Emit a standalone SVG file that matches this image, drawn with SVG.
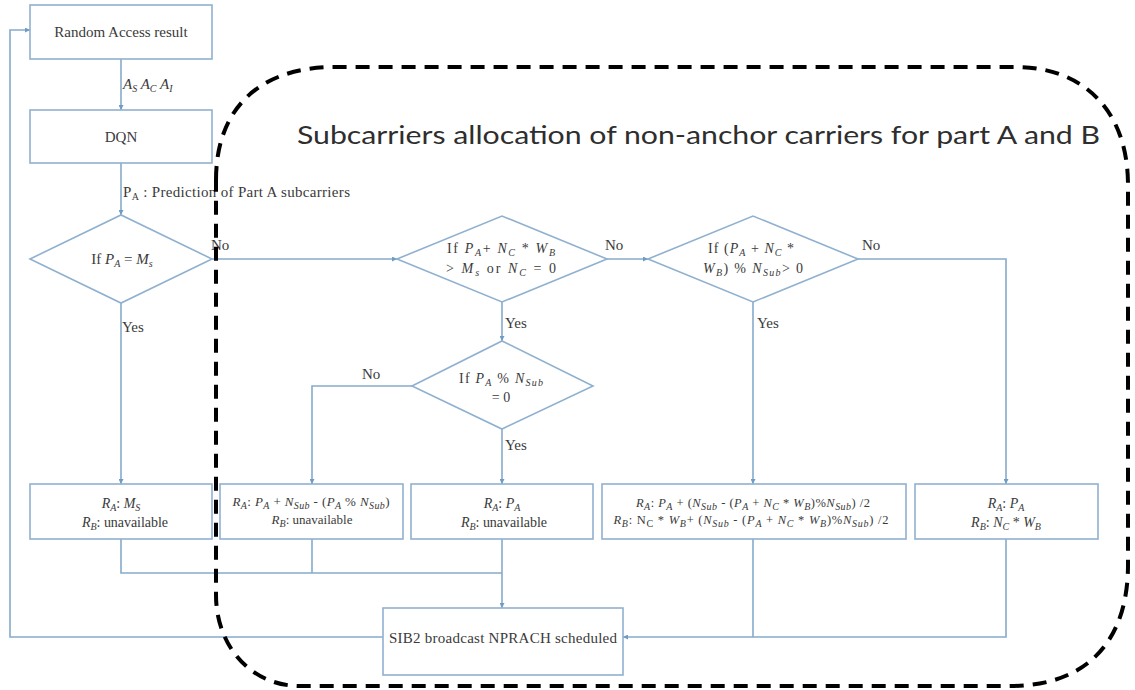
<svg xmlns="http://www.w3.org/2000/svg" width="1135" height="690" viewBox="0 0 1135 690">
  <defs>
    <marker id="arrow" viewBox="0 0 6 6" refX="6" refY="3" markerWidth="5" markerHeight="5" orient="auto" markerUnits="userSpaceOnUse">
      <path d="M0,0 L6,3 L0,6 z" fill="#6f9cc4"/>
    </marker>
    <style>
      .box { fill: #ffffff; stroke: #8fb1cf; stroke-width: 1.6; }
      .dia { fill: #ffffff; stroke: #8fb1cf; stroke-width: 1.6; }
      .line { fill: none; stroke: #86abcb; stroke-width: 1.6; }
      .arr { marker-end: url(#arrow); }
      text { font-family: "Liberation Serif", "Times New Roman", serif; font-size: 15px; fill: #3a3a3a; }
      .c { text-anchor: middle; }
      .i { font-style: italic; }
      .s { font-size: 10px; }
      .b { font-size: 14px; }
      .sm { font-size: 13px; }
      .xs { font-size: 12.5px; }
      .title { font-family: Lato, "Open Sans", sans-serif; font-size: 25.5px; fill: #2e2e2e; }
      .border { fill: none; stroke: #000000; stroke-width: 4; stroke-dasharray: 14 9; }
    </style>
  </defs>

  <rect width="1135" height="690" fill="#ffffff"/>

  <!-- connectors -->
  <g id="connectors">
    <path class="line arr" d="M121,59 V110"/>
    <path class="line arr" d="M121,163 V215"/>
    <path class="line arr" d="M121,303 V484"/>
    <path class="line arr" d="M212,259 H397"/>
    <path class="line arr" d="M607,259 H648"/>
    <path class="line arr" d="M858,259 H1006 V484"/>
    <path class="line arr" d="M502,302 V341"/>
    <path class="line arr" d="M412,386 H312 V484"/>
    <path class="line arr" d="M502,429 V484"/>
    <path class="line arr" d="M753,302 V484"/>
    <path class="line" d="M121,539 V573 H502"/>
    <path class="line" d="M312,539 V573"/>
    <path class="line arr" d="M502,539 V608"/>
    <path class="line" d="M753,539 V637"/>
    <path class="line arr" d="M1006,539 V637 H623"/>
    <path class="line arr" d="M383,637 H10 V30 H30"/>
    <!-- edge labels -->
    <text x="123" y="89" class="i">A<tspan class="s" dy="3">S</tspan><tspan dy="-3"> A</tspan><tspan class="s" dy="3">C</tspan><tspan dy="-3"> A</tspan><tspan class="s" dy="3">I</tspan></text>
    <text x="123" y="197" textLength="227" lengthAdjust="spacing">P<tspan class="s" dy="3">A</tspan><tspan dy="-3"> : Prediction of Part A subcarriers</tspan></text>
    <text x="211" y="250">No</text>
    <text x="605" y="250">No</text>
    <text x="862" y="250">No</text>
    <text x="362" y="379">No</text>
    <text x="122" y="332">Yes</text>
    <text x="505" y="328">Yes</text>
    <text x="757" y="328">Yes</text>
    <text x="505" y="450">Yes</text>
  </g>

  <g id="random-access">
    <rect class="box" x="30" y="5" width="182" height="54"/>
    <text class="c" x="121" y="37">Random Access result</text>
  </g>

  <g id="dqn">
    <rect class="box" x="30" y="110" width="182" height="53"/>
    <text class="c" x="121" y="142">DQN</text>
  </g>

  <g id="check-ms">
    <polygon class="dia" points="30,259 121,215 212,259 121,303"/>
    <text class="c" x="122" y="264">If <tspan class="i">P</tspan><tspan class="s i" dy="3">A</tspan><tspan dy="-3"> = </tspan><tspan class="i">M</tspan><tspan class="s i" dy="3">s</tspan></text>
  </g>

  <g id="check-overflow">
    <polygon class="dia" points="397,259 502,216 607,259 502,302"/>
    <text class="c b" x="501" y="253" textLength="108" lengthAdjust="spacing">If  <tspan class="i">P</tspan><tspan class="s i" dy="3">A</tspan><tspan dy="-3">+ </tspan><tspan class="i">N</tspan><tspan class="s i" dy="3">C</tspan><tspan dy="-3"> * </tspan><tspan class="i">W</tspan><tspan class="s i" dy="3">B</tspan></text>
    <text class="c b" x="501" y="273" textLength="110" lengthAdjust="spacing">&gt; <tspan class="i">M</tspan><tspan class="s i" dy="3">s</tspan><tspan dy="-3"> or </tspan><tspan class="i">N</tspan><tspan class="s i" dy="3">C</tspan><tspan dy="-3">  = 0</tspan></text>
  </g>

  <g id="check-remainder">
    <polygon class="dia" points="648,259 753,216 858,259 753,302"/>
    <text class="c b" x="751" y="253" textLength="86" lengthAdjust="spacing">If (<tspan class="i">P</tspan><tspan class="s i" dy="3">A</tspan><tspan dy="-3"> + </tspan><tspan class="i">N</tspan><tspan class="s i" dy="3">C</tspan><tspan dy="-3"> *</tspan></text>
    <text class="c b" x="753" y="273" textLength="100" lengthAdjust="spacing"><tspan class="i">W</tspan><tspan class="s i" dy="3">B</tspan><tspan dy="-3">) % </tspan><tspan class="i">N</tspan><tspan class="s i" dy="3">Sub</tspan><tspan dy="-3">&gt; 0</tspan></text>
  </g>

  <g id="check-pa-mod">
    <polygon class="dia" points="412,386 502,341 593,386 502,429"/>
    <text class="c b" x="501" y="383" textLength="84" lengthAdjust="spacing">If  <tspan class="i">P</tspan><tspan class="s i" dy="3">A</tspan><tspan dy="-3"> % </tspan><tspan class="i">N</tspan><tspan class="s i" dy="3">Sub</tspan></text>
    <text class="c b" x="501" y="402">=  0</text>
  </g>

  <g id="result-ms">
    <rect class="box" x="30" y="484" width="182" height="55"/>
    <text class="c b" x="121" y="508"><tspan class="i">R</tspan><tspan class="s i" dy="3">A</tspan><tspan dy="-3">: </tspan><tspan class="i">M</tspan><tspan class="s i" dy="3">S</tspan></text>
    <text class="c b" x="125" y="527" textLength="86" lengthAdjust="spacing"><tspan class="i">R</tspan><tspan class="s i" dy="3">B</tspan><tspan dy="-3">: unavailable</tspan></text>
  </g>

  <g id="result-round-up">
    <rect class="box" x="220" y="484" width="183" height="55"/>
    <text class="c sm" x="311" y="506" textLength="157" lengthAdjust="spacing"><tspan class="i">R</tspan><tspan class="s i" dy="3">A</tspan><tspan dy="-3">: </tspan><tspan class="i">P</tspan><tspan class="s i" dy="3">A</tspan><tspan dy="-3"> + </tspan><tspan class="i">N</tspan><tspan class="s i" dy="3">Sub</tspan><tspan dy="-3"> - (</tspan><tspan class="i">P</tspan><tspan class="s i" dy="3">A</tspan><tspan dy="-3"> % </tspan><tspan class="i">N</tspan><tspan class="s i" dy="3">Sub</tspan><tspan dy="-3">)</tspan></text>
    <text class="c sm" x="312" y="524"><tspan class="i">R</tspan><tspan class="s i" dy="3">B</tspan><tspan dy="-3">: unavailable</tspan></text>
  </g>

  <g id="result-pa">
    <rect class="box" x="411" y="484" width="182" height="55"/>
    <text class="c b" x="502" y="508"><tspan class="i">R</tspan><tspan class="s i" dy="3">A</tspan><tspan dy="-3">: </tspan><tspan class="i">P</tspan><tspan class="s i" dy="3">A</tspan></text>
    <text class="c b" x="504" y="527" textLength="86" lengthAdjust="spacing"><tspan class="i">R</tspan><tspan class="s i" dy="3">B</tspan><tspan dy="-3">: unavailable</tspan></text>
  </g>

  <g id="result-split">
    <rect class="box" x="602" y="484" width="304" height="55"/>
    <text class="c xs" x="753" y="507" textLength="234" lengthAdjust="spacing"><tspan class="i">R</tspan><tspan class="s i" dy="3">A</tspan><tspan dy="-3">: </tspan><tspan class="i">P</tspan><tspan class="s i" dy="3">A</tspan><tspan dy="-3"> + (</tspan><tspan class="i">N</tspan><tspan class="s i" dy="3">Sub</tspan><tspan dy="-3"> - (</tspan><tspan class="i">P</tspan><tspan class="s i" dy="3">A</tspan><tspan dy="-3"> + </tspan><tspan class="i">N</tspan><tspan class="s i" dy="3">C</tspan><tspan dy="-3"> * </tspan><tspan class="i">W</tspan><tspan class="s i" dy="3">B</tspan><tspan dy="-3">)%</tspan><tspan class="i">N</tspan><tspan class="s i" dy="3">Sub</tspan><tspan dy="-3">) /2</tspan></text>
    <text class="c xs" x="751" y="524" textLength="275" lengthAdjust="spacing"><tspan class="i">R</tspan><tspan class="s i" dy="3">B</tspan><tspan dy="-3">: N</tspan><tspan class="s" dy="3">C</tspan><tspan dy="-3"> * </tspan><tspan class="i">W</tspan><tspan class="s i" dy="3">B</tspan><tspan dy="-3">+ (</tspan><tspan class="i">N</tspan><tspan class="s i" dy="3">Sub</tspan><tspan dy="-3"> - (</tspan><tspan class="i">P</tspan><tspan class="s i" dy="3">A</tspan><tspan dy="-3"> + </tspan><tspan class="i">N</tspan><tspan class="s i" dy="3">C</tspan><tspan dy="-3"> *  </tspan><tspan class="i">W</tspan><tspan class="s i" dy="3">B</tspan><tspan dy="-3">)%</tspan><tspan class="i">N</tspan><tspan class="s i" dy="3">Sub</tspan><tspan dy="-3">) /2</tspan></text>
  </g>

  <g id="result-pa-nb">
    <rect class="box" x="915" y="484" width="183" height="55"/>
    <text class="c b" x="1006" y="508"><tspan class="i">R</tspan><tspan class="s i" dy="3">A</tspan><tspan dy="-3">: </tspan><tspan class="i">P</tspan><tspan class="s i" dy="3">A</tspan></text>
    <text class="c b" x="1006" y="527"><tspan class="i">R</tspan><tspan class="s i" dy="3">B</tspan><tspan dy="-3">: </tspan><tspan class="i">N</tspan><tspan class="s i" dy="3">C</tspan><tspan dy="-3"> * </tspan><tspan class="i">W</tspan><tspan class="s i" dy="3">B</tspan></text>
  </g>

  <g id="sib2">
    <rect class="box" x="383" y="608" width="240" height="67"/>
    <text class="c" x="503" y="643" textLength="228" lengthAdjust="spacing">SIB2 broadcast NPRACH scheduled</text>
  </g>

  <!-- dashed region for part A/B allocation -->
  <g id="allocation-region">
    <path class="border" d="M216,180 C216,110 258,67 335,67 H1015 C1085,67 1128,112 1128,185 V565 C1128,640 1088,686 1010,686 H300 C250,686 216,645 216,595 Z"/>
    <text class="title" x="297" y="144" textLength="803" lengthAdjust="spacingAndGlyphs">Subcarriers allocation of non-anchor carriers for part A and B</text>
  </g>
</svg>
